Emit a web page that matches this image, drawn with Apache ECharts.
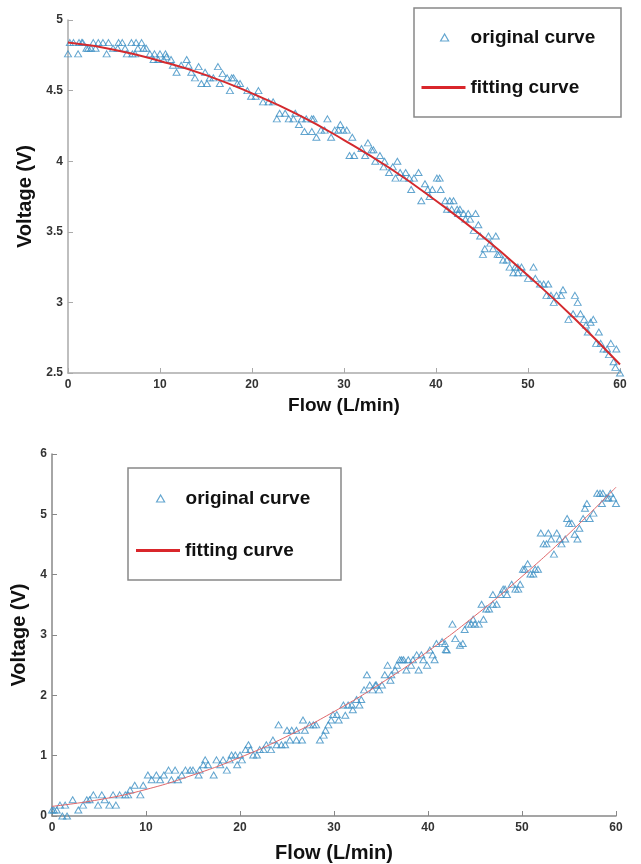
<!DOCTYPE html>
<html><head><meta charset="utf-8">
<script src="https://cdn.jsdelivr.net/npm/echarts@6/dist/echarts.min.js"></script>
<style>html,body{margin:0;padding:0;background:#fff}#c{width:641px;height:864px}</style>
</head><body><div id="c"></div><script>
// Top chart: original measured points [flow, voltage]
const topOriginal = [
[0,4.76],[0.2,4.84],[0.6,4.84],[1.1,4.76],[1.2,4.84],[1.5,4.84],[1.6,4.84],[2.0,4.80],[2.2,4.80],[2.5,4.80],
[2.75,4.84],[3.0,4.80],[3.3,4.84],[3.8,4.84],[4.2,4.76],[4.4,4.84],[4.9,4.80],[5.4,4.80],[5.5,4.84],[5.9,4.84],
[6.2,4.80],[6.4,4.76],[6.9,4.84],[7.0,4.76],[7.3,4.76],[7.4,4.84],[7.6,4.80],[8.0,4.84],[8.2,4.80],[8.5,4.80],
[8.9,4.76],[9.3,4.72],[9.4,4.76],[9.8,4.72],[10.0,4.76],[10.4,4.72],[10.6,4.76],[10.7,4.74],[11.2,4.72],[11.4,4.68],
[11.8,4.63],[12.3,4.68],[12.9,4.72],[13.1,4.68],[13.4,4.63],[13.8,4.59],[14.2,4.67],[14.5,4.55],[14.9,4.63],[15.1,4.55],
[15.4,4.59],[15.8,4.59],[16.3,4.67],[16.5,4.55],[16.8,4.62],[17.3,4.59],[17.6,4.50],[17.8,4.59],[18.0,4.59],[18.4,4.55],
[18.7,4.55],[19.5,4.50],[19.9,4.46],[20.4,4.46],[20.7,4.50],[21.2,4.42],[21.8,4.42],[22.3,4.42],[22.7,4.30],[23.0,4.34],
[23.6,4.34],[24.0,4.30],[24.5,4.30],[24.7,4.34],[25.1,4.26],[25.4,4.30],[25.7,4.21],[25.9,4.30],[26.5,4.30],[26.5,4.21],
[26.7,4.30],[27.0,4.17],[27.5,4.22],[27.9,4.22],[28.2,4.30],[28.6,4.17],[29.0,4.22],[29.4,4.22],[29.6,4.26],[29.9,4.22],
[30.3,4.22],[30.6,4.04],[30.9,4.17],[31.1,4.04],[31.9,4.09],[32.3,4.04],[32.6,4.13],[33.0,4.08],[33.2,4.08],[33.4,4.00],
[33.9,4.04],[34.3,3.96],[34.4,4.00],[34.9,3.92],[35.3,3.96],[35.6,3.88],[35.8,4.00],[36.1,3.92],[36.5,3.88],[36.7,3.92],
[37.1,3.88],[37.3,3.80],[37.6,3.88],[38.1,3.92],[38.4,3.72],[38.8,3.84],[39.1,3.80],[39.3,3.75],[39.6,3.80],[40.1,3.88],
[40.4,3.88],[40.5,3.80],[41.0,3.72],[41.2,3.66],[41.5,3.72],[41.7,3.66],[41.9,3.72],[42.3,3.66],[42.4,3.63],[42.6,3.66],
[43.0,3.63],[43.2,3.59],[43.5,3.63],[43.7,3.59],[44.1,3.51],[44.3,3.63],[44.6,3.55],[44.8,3.47],[45.1,3.34],[45.3,3.38],
[45.7,3.47],[45.9,3.42],[46.2,3.38],[46.5,3.47],[46.7,3.34],[46.9,3.34],[47.3,3.30],[47.7,3.30],[48.0,3.25],[48.4,3.21],
[48.6,3.25],[48.9,3.25],[48.9,3.21],[49.3,3.25],[49.5,3.21],[50.0,3.17],[50.6,3.25],[50.8,3.17],[51.3,3.13],[51.7,3.13],
[52.0,3.05],[52.2,3.13],[52.5,3.05],[52.8,3.00],[53.1,3.05],[53.6,3.05],[53.8,3.09],[54.4,2.88],[54.9,2.92],[55.1,3.05],
[55.4,3.00],[55.7,2.92],[56.1,2.88],[56.3,2.84],[56.5,2.79],[56.8,2.86],[57.1,2.88],[57.4,2.71],[57.7,2.79],[57.9,2.71],
[58.2,2.67],[58.6,2.67],[58.8,2.63],[59.0,2.71],[59.3,2.58],[59.5,2.54],[59.6,2.67],[60.0,2.50]
];
// Top chart: fitting curve read at regular flow steps
const topFitFlow = [0,5,10,15,20,25,30,35,40,45,50,55,60];
const topFitVolt = [4.84,4.79,4.71,4.61,4.48,4.33,4.15,3.95,3.72,3.47,3.19,2.89,2.56];

// Bottom chart: original measured points [flow, voltage]
const bottomOriginal = [
[0,0.10],[0.2,0.10],[0.5,0.10],[0.85,0.18],[1.1,0],[1.4,0.18],[1.6,0],[2.2,0.27],[2.8,0.10],[3.3,0.18],
[3.7,0.27],[4.0,0.27],[4.4,0.35],[4.9,0.18],[5.3,0.35],[5.6,0.27],[6.1,0.18],[6.5,0.35],[6.8,0.18],[7.2,0.35],
[7.8,0.35],[8.1,0.35],[8.3,0.43],[8.8,0.51],[9.4,0.35],[9.7,0.51],[10.2,0.68],[10.6,0.60],[11.1,0.68],[11.5,0.60],
[11.9,0.68],[12.4,0.76],[12.7,0.60],[13.1,0.76],[13.4,0.60],[13.8,0.68],[14.2,0.76],[14.7,0.76],[15.0,0.76],[15.6,0.68],
[15.7,0.76],[16.1,0.85],[16.3,0.93],[16.6,0.85],[17.2,0.68],[17.5,0.93],[17.9,0.85],[18.2,0.93],[18.6,0.76],[18.9,0.93],
[19.1,1.01],[19.5,1.01],[19.7,0.85],[20.0,1.01],[20.2,0.93],[20.6,1.10],[20.9,1.18],[21.1,1.10],[21.4,1.01],[21.8,1.01],
[22.1,1.10],[22.5,1.10],[22.8,1.18],[23.3,1.10],[23.5,1.26],[23.9,1.18],[24.1,1.51],[24.4,1.18],[24.8,1.18],[25.0,1.42],
[25.3,1.26],[25.5,1.42],[26.0,1.42],[26.0,1.26],[26.6,1.26],[26.7,1.59],[26.9,1.42],[27.4,1.51],[27.8,1.51],[28.1,1.51],
[28.5,1.26],[28.9,1.34],[29.1,1.42],[29.4,1.51],[29.7,1.59],[29.9,1.68],[30.3,1.68],[30.5,1.59],[31.0,1.84],[31.2,1.67],
[31.5,1.84],[31.9,1.84],[32.0,1.76],[32.4,1.93],[32.7,1.84],[32.9,1.93],[33.2,2.09],[33.5,2.34],[33.8,2.17],[34.1,2.09],
[34.4,2.17],[34.5,2.17],[34.8,2.09],[35.1,2.17],[35.4,2.34],[35.7,2.50],[36.0,2.25],[36.1,2.34],[36.5,2.42],[36.7,2.50],
[37.0,2.59],[37.2,2.59],[37.4,2.59],[37.7,2.42],[37.9,2.59],[38.2,2.50],[38.4,2.59],[38.8,2.67],[39.0,2.42],[39.3,2.67],
[39.5,2.59],[39.9,2.50],[40.2,2.75],[40.5,2.67],[40.7,2.59],[40.9,2.86],[41.5,2.89],[41.8,2.86],[41.9,2.76],[42.0,2.75],
[42.6,3.18],[42.9,2.94],[43.4,2.83],[43.7,2.86],[43.9,3.09],[44.3,3.18],[44.6,3.18],[44.8,3.26],[45.0,3.18],[45.4,3.18],
[45.7,3.51],[45.9,3.26],[46.2,3.43],[46.5,3.43],[46.9,3.51],[46.9,3.67],[47.3,3.51],[47.7,3.67],[48.0,3.76],[48.2,3.76],
[48.4,3.67],[48.9,3.84],[49.3,3.76],[49.6,3.76],[49.8,3.84],[50.1,4.09],[50.3,4.09],[50.6,4.18],[50.9,4.01],[51.2,4.01],
[51.4,4.09],[51.7,4.09],[52.0,4.69],[52.3,4.51],[52.6,4.51],[52.8,4.69],[53.1,4.59],[53.4,4.34],[53.7,4.69],[54.0,4.59],
[54.2,4.51],[54.6,4.59],[54.8,4.93],[55.0,4.85],[55.3,4.85],[55.6,4.67],[55.9,4.59],[56.1,4.77],[56.5,4.93],[56.7,5.10],
[56.9,5.18],[57.2,4.93],[57.6,5.02],[58.0,5.35],[58.3,5.35],[58.5,5.18],[58.6,5.35],[59.0,5.27],[59.2,5.27],[59.4,5.35],
[59.7,5.27],[60.0,5.18]
];
// Bottom chart: fitting curve read at regular flow steps
const bottomFitFlow = [0,5,10,15,20,25,30,35,40,45,50,55,60];
const bottomFitVolt = [0.16,0.27,0.44,0.68,0.97,1.32,1.73,2.20,2.73,3.32,3.97,4.68,5.45];

const seriesNames = ['original curve', 'fitting curve'];
const axisNames = { x: 'Flow (L/min)', y: 'Voltage (V)' };

const zip = (a, b) => a.map((v, i) => [v, b[i]]);
const FONT = "'Liberation Sans', Arial, sans-serif";
const markerColor = '#3b8fc3';
const fitColor = '#d9262b';

function xAxis(gridIndex, lineColor, nameGap, nameSize) {
  return {
    type: 'value', gridIndex, min: 0, max: 60, interval: 10,
    name: axisNames.x, nameLocation: 'middle', nameGap,
    nameTextStyle: { fontFamily: FONT, fontWeight: 'bold', fontSize: nameSize, color: '#111' },
    axisLine: { lineStyle: { color: lineColor, width: 1.5 } },
    axisTick: { inside: true, length: 5, lineStyle: { color: lineColor } },
    axisLabel: { margin: 6, fontFamily: FONT, fontWeight: 'bold', fontSize: 12, color: '#333' },
    splitLine: { show: false }
  };
}
function yAxis(gridIndex, min, max, interval, lineColor, nameGap) {
  return {
    type: 'value', gridIndex, min, max, interval,
    name: axisNames.y, nameLocation: 'middle', nameGap,
    nameTextStyle: { fontFamily: FONT, fontWeight: 'bold', fontSize: 20, color: '#111' },
    axisLine: { show: true, lineStyle: { color: lineColor, width: 1.5 } },
    axisTick: { show: true, inside: true, length: 5, lineStyle: { color: lineColor } },
    axisLabel: { margin: 5, fontFamily: FONT, fontWeight: 'bold', fontSize: 12, color: '#333' },
    splitLine: { show: false }
  };
}
const legendText = { fontFamily: FONT, fontWeight: 'bold', fontSize: 19, color: '#111' };
const markerLegend = (left, top, pad) => ({
  data: [seriesNames[0]], left, top, padding: 0, selectedMode: false,
  icon: 'triangle', itemWidth: 8, itemHeight: 7,
  itemStyle: { color: 'rgba(0,0,0,0)', borderColor: markerColor, borderWidth: 1.2 },
  textStyle: Object.assign({ padding: [0, 0, 0, pad] }, legendText)
});
const lineLegend = (left, top, width) => ({
  data: [seriesNames[1]], left, top, padding: 0, selectedMode: false,
  icon: 'rect', itemWidth: width, itemHeight: 3,
  itemStyle: { color: fitColor, borderWidth: 0 },
  textStyle: Object.assign({ padding: [0, 0, 0, 0] }, legendText)
});

const option = {
  backgroundColor: '#fff',
  animation: false,
  grid: [
    { left: 68, right: 21, top: 20, bottom: 491 },
    { left: 52, right: 25, top: 454, bottom: 48 }
  ],
  xAxis: [ xAxis(0, '#aaa', 23, 19), xAxis(1, '#888', 27, 20) ],
  yAxis: [ yAxis(0, 2.5, 5, 0.5, '#aaa', 33), yAxis(1, 0, 6, 1, '#888', 19) ],
  graphic: [
    { type: 'rect', z: 0, shape: { x: 414, y: 8, width: 207, height: 109 },
      style: { fill: '#fff', stroke: '#888', lineWidth: 1.5 } },
    { type: 'rect', z: 0, shape: { x: 128, y: 468, width: 213, height: 112 },
      style: { fill: '#fff', stroke: '#888', lineWidth: 1.5 } }
  ],
  legend: [
    markerLegend(440, 28, 17),
    lineLegend(421.5, 78, 44),
    markerLegend(156, 489, 16),
    lineLegend(136, 541, 44)
  ],
  series: [
    { name: seriesNames[0], type: 'scatter', xAxisIndex: 0, yAxisIndex: 0, data: topOriginal,
      symbol: 'triangle', symbolSize: [7, 6], z: 2,
      itemStyle: { color: 'rgba(0,0,0,0)', borderColor: markerColor, borderWidth: 1 } },
    { name: seriesNames[1], type: 'line', xAxisIndex: 0, yAxisIndex: 0, data: zip(topFitFlow, topFitVolt),
      smooth: true, symbol: 'none', z: 3, lineStyle: { color: '#d42a2e', width: 2 } },
    { name: seriesNames[0], type: 'scatter', xAxisIndex: 1, yAxisIndex: 1, data: bottomOriginal,
      symbol: 'triangle', symbolSize: [7, 6], z: 2,
      itemStyle: { color: 'rgba(0,0,0,0)', borderColor: markerColor, borderWidth: 1 } },
    { name: seriesNames[1], type: 'line', xAxisIndex: 1, yAxisIndex: 1, data: zip(bottomFitFlow, bottomFitVolt),
      smooth: true, symbol: 'none', z: 3, lineStyle: { color: '#e0676a', width: 1 } }
  ]
};
const chart = echarts.init(document.getElementById('c'), null, { renderer: 'canvas' });
chart.setOption(option);
</script></body></html>
